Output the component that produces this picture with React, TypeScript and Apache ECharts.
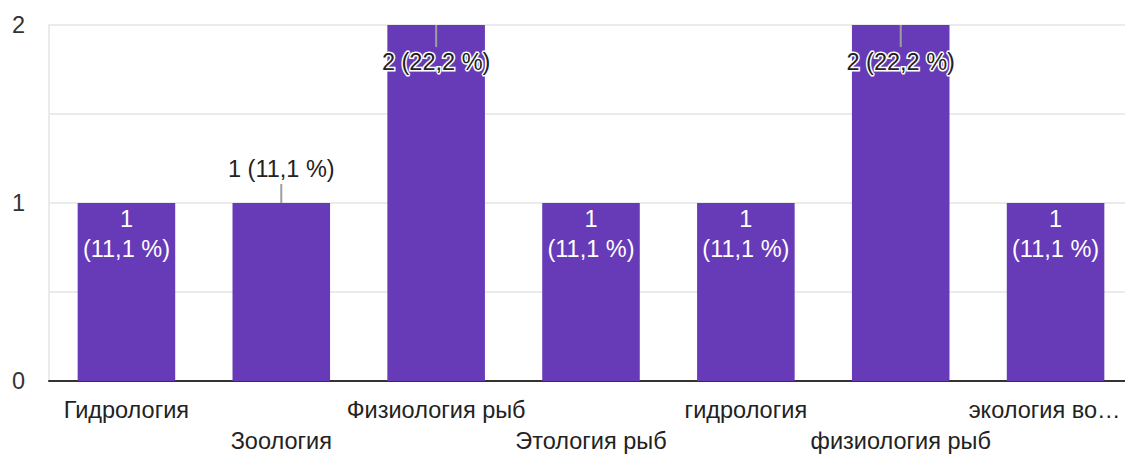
import React, { useEffect, useRef } from "react";
import * as echarts from "echarts";

const categories = [
  "Гидрология",
  "Зоология",
  "Физиология рыб",
  "Этология рыб",
  "гидрология",
  "физиология рыб",
  "экология во…",
];
const counts = [1, 1, 2, 1, 1, 2, 1];
const percents = ["11,1", "11,1", "22,2", "11,1", "11,1", "22,2", "11,1"];
// which bars have their label placed above the bar (outside)
const labelAbove = [false, true, false, false, false, false, false];
const yTicks = [0, 1, 2];

const FONT = "'Liberation Sans', Arial, sans-serif";
const FS = 23.5;
const BAR = "#673ab7";

export default function App() {
  const ref = useRef<HTMLDivElement>(null);
  useEffect(() => {
    if (!ref.current) return;
    const chart = echarts.init(ref.current, null, { renderer: "svg" });
    const yMax = yTicks[yTicks.length - 1];

    const barData = counts.map((v, i) => {
      const full = v >= yMax;
      const label: any = labelAbove[i]
        ? {
            show: true,
            position: "top",
            distance: 21,
            formatter: `${v} (${percents[i]} %)`,
            color: "#222",
            fontSize: FS,
            lineHeight: 26,
            fontFamily: FONT,
          }
        : full
        ? {
            show: true,
            position: "insideTop",
            distance: 24,
            formatter: `${v} (${percents[i]} %)`,
            color: "#222",
            fontSize: FS,
            lineHeight: 26,
            fontFamily: FONT,
            textBorderColor: "#fff",
            textBorderWidth: 3,
          }
        : {
            show: true,
            position: "insideTop",
            distance: 1,
            formatter: `${v}\n(${percents[i]} %)`,
            color: "#fff",
            fontSize: FS,
            lineHeight: 30,
            fontFamily: FONT,
          };
      return { value: v, label };
    });

    const leaderData = counts
      .map((v, i) => [i, v, labelAbove[i] ? 1 : 0])
      .filter((d) => d[2] === 1 || d[1] >= yMax);

    const xData = categories.map((c, i) =>
      i === categories.length - 1 ? { value: c, textStyle: { padding: [0, 22, 0, 0] } } : c
    );

    chart.setOption({
      animation: false,
      grid: {
        left: 49,
        width: 1084,
        top: 25,
        bottom: 73,
        containLabel: false,
        outerBoundsMode: "none",
      },
      xAxis: {
        type: "category",
        data: xData,
        axisLine: { show: true, lineStyle: { color: "#333", width: 2 } },
        axisTick: { show: false },
        axisLabel: {
          interval: 0,
          color: "#222",
          fontSize: FS,
          fontFamily: FONT,
          lineHeight: 31,
          margin: 13,
          formatter: (val: string, idx: number) => (idx % 2 === 1 ? "\n" + val : val),
        },
      },
      yAxis: {
        type: "value",
        min: 0,
        max: yMax,
        interval: 0.5,
        axisLine: { show: true, lineStyle: { color: "#ebebeb", width: 2 } },
        axisTick: { show: false },
        axisLabel: {
          color: "#333",
          fontSize: FS,
          fontFamily: FONT,
          margin: 24,
          formatter: (v: number) => (Number.isInteger(v) && yTicks.includes(v) ? String(v) : ""),
        },
        splitLine: { show: true, lineStyle: { color: "#ebebeb", width: 2 } },
      },
      series: [
        {
          type: "bar",
          data: barData,
          barWidth: "63%",
          itemStyle: { color: BAR },
        },
        {
          type: "custom",
          data: leaderData,
          z: 5,
          renderItem: (params: any, api: any) => {
            const idx = api.value(0);
            const val = api.value(1);
            const above = api.value(2) === 1;
            const p = api.coord([idx, val]);
            const y2 = above ? p[1] - 19 : p[1] + 22;
            return {
              type: "line",
              shape: { x1: p[0], y1: p[1], x2: p[0], y2 },
              style: { stroke: "#9e9e9e", lineWidth: 2 },
            };
          },
        },
      ],
    });
    return () => chart.dispose();
  }, []);
  return (
    <div
      ref={ref}
      style={{ position: "fixed", left: 0, top: 0, width: 1125, height: 454, background: "#fff" }}
    />
  );
}
